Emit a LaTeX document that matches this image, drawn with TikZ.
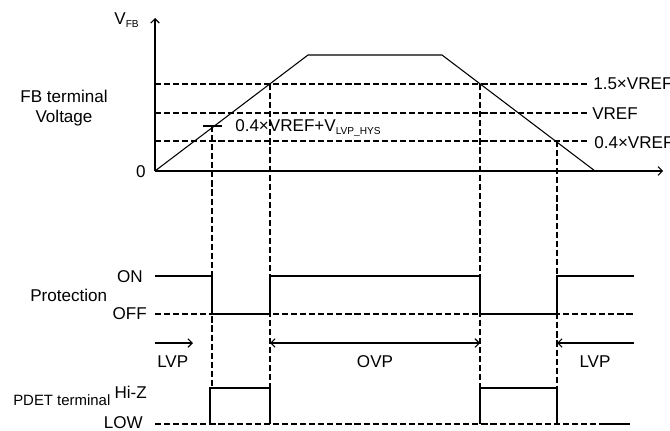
\documentclass[tikz,border=0pt]{standalone}
\usepackage{fontspec}
\setmainfont{Liberation Sans}
\usepackage{tikz}
\usetikzlibrary{arrows.meta,calc}
\newcommand{\lowsub}[1]{\raisebox{-1.6pt}{\fontsize{7.6}{8}\selectfont #1}}

\begin{document}
\begin{tikzpicture}[x=0.75pt,y=-0.75pt,
  >={Straight Barb[length=3.2pt,width=6.4pt]},
  lbl/.style={inner sep=0pt,font=\fontsize{12.8}{15}\selectfont},
  sig/.style={line width=0.8pt},
  guide/.style={line width=1.5pt,dash pattern=on 4.6pt off 2.2pt}]
  \useasboundingbox (0,0) rectangle (670,431);
  % levels (x on the axis) and instants
  \coordinate (O) at (155,171);
  \coordinate (ytop) at (155,18);
  \coordinate (xend) at (663,171);
  \coordinate (rise) at (308,55);
  \coordinate (fall) at (442,55);
  \coordinate (zero) at (595,171);
  \coordinate (v15) at (155,84);
  \coordinate (v10) at (155,113);
  \coordinate (v04) at (155,141);
  \coordinate (hys) at (155,126);
  \coordinate (on) at (155,276);
  \coordinate (off) at (155,314);
  \coordinate (span) at (155,343);
  \coordinate (hiz) at (155,388);
  \coordinate (low) at (155,424);
  \coordinate (ta) at (212,0);
  \coordinate (tb) at (270,0);
  \coordinate (tc) at (480,0);
  \coordinate (td) at (557,0);
  \coordinate (refend) at (587,0);
  \coordinate (sigend) at (634,0);
  \coordinate (lowend) at (605,0);
  \coordinate (lowtail) at (630,0);

  % FB terminal voltage
  \draw[sig,->] (O) -- (ytop);
  \draw[sig,->] (O) -- (xend);
  \draw[sig] (O) -- (rise) -- (fall) -- (zero);
  \foreach \lv in {v15,v10,v04}
    \draw[guide] (\lv) -- (refend |- \lv);
  \draw[sig] ($(ta |- hys)+(-9,0)$) -- ($(ta |- hys)+(10,0)$);
  \draw[guide] (ta |- hys) -- (ta |- hiz);
  \draw[guide] (tb |- v15) -- (tb |- hiz);
  \draw[guide] (tc |- v15) -- (tc |- hiz);
  \draw[guide] (td |- v04) -- (td |- hiz);

  \node[lbl,anchor=base east] (vfb) at (139,25) {V\lowsub{FB}};
  \node[lbl,anchor=base east] (zlbl) at (146,177) {0};
  \node[lbl,align=center] (fbv) at (64,108) {FB terminal\\Voltage};
  \node[lbl,anchor=base west] (l15) at (593,90) {1.5×VREF};
  \node[lbl,anchor=base west] (l10) at (592,120) {VREF};
  \node[lbl,anchor=base west] (l04) at (594,148) {0.4×VREF};
  \node[lbl,anchor=base west] (lhys) at (235,132) {0.4×VREF+V\lowsub{LVP\_HYS}};

  % protection state
  \draw[guide] (off) -- (sigend |- off);
  \draw[sig] (on) -- (ta |- on) -- (ta |- off) -- (tb |- off) -- (tb |- on)
    -- (tc |- on) -- (tc |- off) -- (td |- off) -- (td |- on) -- (sigend |- on);
  \draw[sig,->] (span) -- ($(span)+(38,0)$);
  \draw[sig,<->] (tb |- span) -- (tc |- span);
  \draw[sig,->] (sigend |- span) -- (td |- span);

  \node[lbl,anchor=base east] (onl) at (143,282) {ON};
  \node[lbl,anchor=base east] (offl) at (147,319) {OFF};
  \node[lbl,anchor=base west] (prot) at (30,301) {Protection};
  \node[lbl,anchor=base west] (lvpa) at (157,367) {LVP};
  \node[lbl,anchor=base] (ovp) at (375,367) {OVP};
  \node[lbl,anchor=base] (lvpb) at (595,367) {LVP};

  % PDET terminal
  \draw[guide] (low) -- (lowend |- low);
  \draw[sig] (lowend |- low) -- (lowtail |- low);
  \draw[sig] ($(ta |- low)+(-2,0)$) -- ($(ta |- hiz)+(-2,0)$) -- (tb |- hiz) -- (tb |- low);
  \draw[sig] (tc |- low) -- (tc |- hiz) -- (td |- hiz) -- (td |- low);

  \node[lbl,anchor=base west,font=\fontsize{11.2}{13}\selectfont] (pdet) at (13,405) {PDET terminal};
  \node[lbl,anchor=base east] (hizl) at (147,398) {Hi-Z};
  \node[lbl,anchor=base east] (lowl) at (143,428.5) {LOW};
\end{tikzpicture}
\end{document}
